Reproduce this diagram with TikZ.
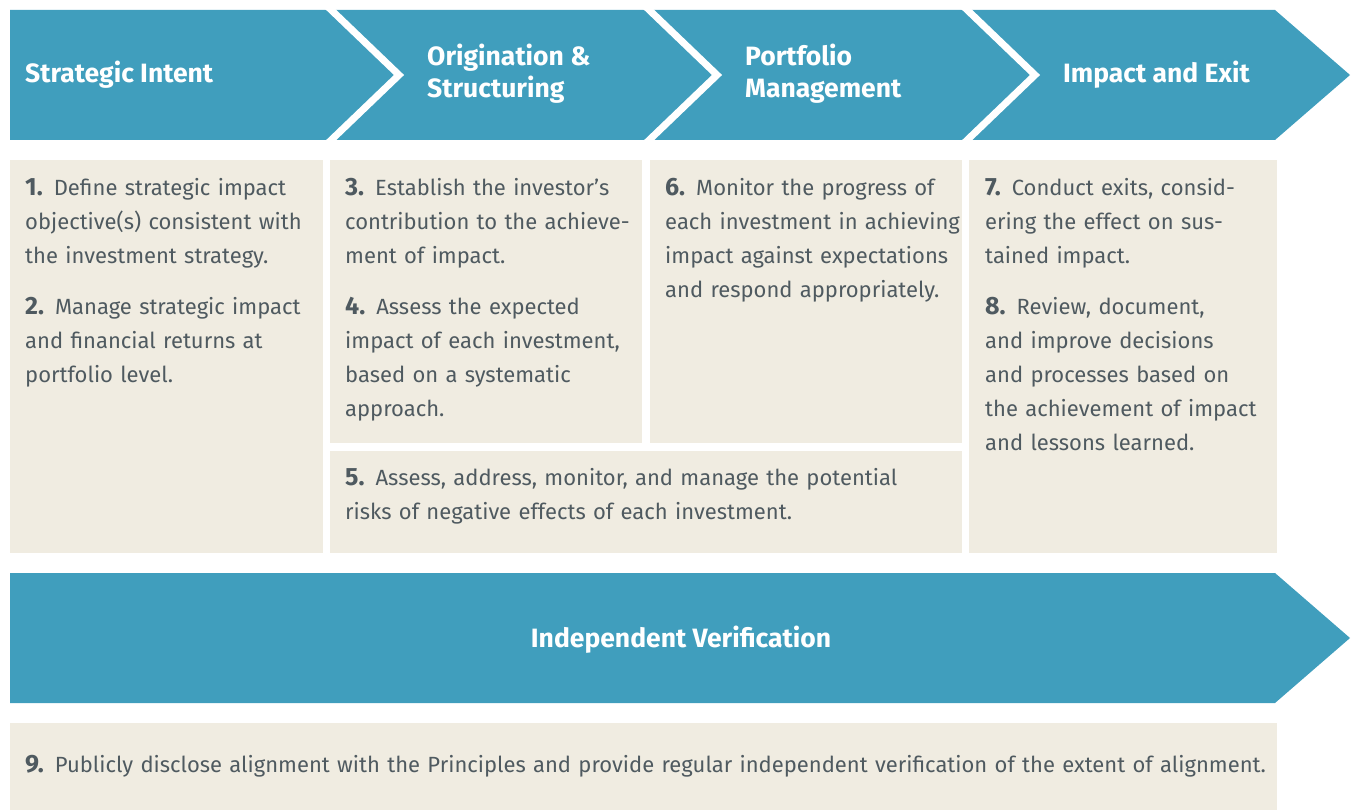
\documentclass[tikz,border=0pt]{standalone}
\usepackage{fontspec}
\setmainfont{Fira Sans}
\definecolor{iblue}{HTML}{409EBD}
\definecolor{ibeige}{HTML}{F0ECE1}
\definecolor{igray}{HTML}{4F5A60}
\newcommand{\pnum}[1]{{\fontsize{25}{34}\selectfont\bfseries #1}}

\begin{document}
\begin{tikzpicture}
		[x=1pt,y=-1pt,
		banner/.style={fill=iblue},
		card/.style={fill=ibeige},
		cut/.style={white,line width=7pt},
		head/.style={anchor=base west,inner sep=0pt,text=white,align=left,
			font=\fontsize{26.5}{32}\selectfont\bfseries},
		body/.style={anchor=base west,inner sep=0pt,text=igray,text width=#1,
			align=left,font=\fontsize{22}{34}\selectfont},
		body/.default=330pt]
		
		\useasboundingbox (0,0) rectangle (1354,810);
		
		% phases along the top
		\fill[banner] (10,10) -- (1275,10) -- (1350,75) -- (1275,140) -- (10,140) -- cycle;
		\foreach \cx in {325,643,961}
		\draw[cut] (\cx,4) -- (\cx+74,75) -- (\cx,146);
		
		\node[head] (intent) at (25,83) {Strategic Intent};
		\node[head] (orig) at (427,98) {Origination \&\\Structuring};
		\node[head] (port) at (745,98) {Portfolio\\Management};
		\node[head] (exit) at (1063,83) {Impact and Exit};
		
		% principles
		\fill[card] (10,160) rectangle (323,553);
		\fill[card] (330,160) rectangle (642,443);
		\fill[card] (650,160) rectangle (962,443);
		\fill[card] (330,451) rectangle (962,553);
		\fill[card] (969,160) rectangle (1277,553);
		
		\node[body] (p12) at (25,196) {\pnum{1.} Define strategic impact\\
			objective(s) consistent with\\ the investment strategy.\\[17pt]
			\pnum{2.} Manage strategic impact\\ and financial returns at\\ portfolio level.};
		\node[body] (p34) at (345,196) {\pnum{3.} Establish the investor’s\\
			contribution to the achieve-\\ ment of impact.\\[17pt]
			\pnum{4.} Assess the expected\\ impact of each investment,\\
			based on a systematic\\ approach.};
		\node[body] (p6) at (665,196) {\pnum{6.} Monitor the progress of\\
			each investment in achieving\\ impact against expectations\\
			and respond appropriately.};
		\node[body=620pt] (p5) at (345,485) {\pnum{5.} Assess, address, monitor, and manage the potential\\
			risks of negative effects of each investment.};
		\node[body] (p78) at (985,196) {\pnum{7.} Conduct exits, consid-\\
			ering the effect on sus-\\ tained impact.\\[17pt]
			\pnum{8.} Review, document,\\ and improve decisions\\
			and processes based on\\ the achievement of impact\\ and lessons learned.};
		
		% verification
		\fill[banner] (10,573) -- (1275,573) -- (1350,638) -- (1275,703) -- (10,703) -- cycle;
		\node[head,anchor=base] (verif) at (681,647) {Independent Verification};
		
		\fill[card] (10,723) rectangle (1277,810);
		\node[body=1320pt] (p9) at (25,772) {\pnum{9.} Publicly disclose alignment with the Principles and provide regular independent verification of the extent of alignment.};
		
\end{tikzpicture}
\end{document}
